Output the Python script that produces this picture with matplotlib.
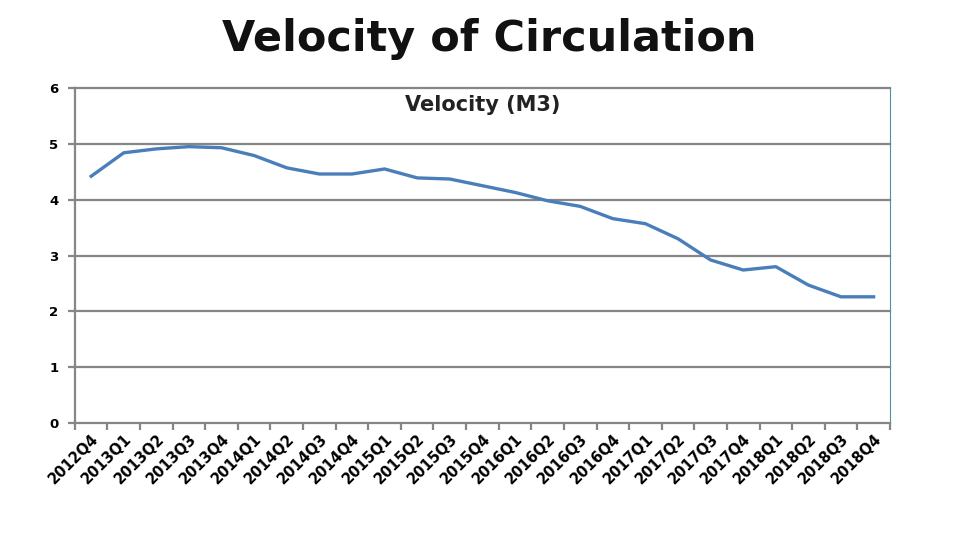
import matplotlib
matplotlib.use("Agg")
import matplotlib.pyplot as plt

quarters = ["2012Q4", "2013Q1", "2013Q2", "2013Q3", "2013Q4", "2014Q1", "2014Q2", "2014Q3",
            "2014Q4", "2015Q1", "2015Q2", "2015Q3", "2015Q4", "2016Q1", "2016Q2", "2016Q3",
            "2016Q4", "2017Q1", "2017Q2", "2017Q3", "2017Q4", "2018Q1", "2018Q2", "2018Q3",
            "2018Q4"]
velocity = [4.42, 4.84, 4.91, 4.95, 4.93, 4.79, 4.57, 4.46, 4.46, 4.55, 4.39, 4.37, 4.25,
            4.13, 3.98, 3.88, 3.66, 3.57, 3.30, 2.92, 2.74, 2.80, 2.47, 2.26, 2.26]
yticks = [0, 1, 2, 3, 4, 5, 6]

fig = plt.figure(figsize=(9.6, 5.4), dpi=100)
ax = fig.add_axes([0.078, 0.2167, 0.849, 0.6203])

x = list(range(len(quarters)))
ax.plot(x, velocity, color="#4A7EBB", linewidth=2.4, solid_joinstyle="round")

ax.set_xlim(-0.5, len(quarters) - 0.5)
ax.set_ylim(0, 6)
ax.set_yticks(yticks)
ax.set_yticklabels([str(v) for v in yticks], fontsize=9.5, fontweight="bold")
for v in yticks[1:]:
    ax.axhline(v, color="#868686", linewidth=1.6, zorder=0, clip_on=False)

ax.set_xticks(x)
ax.set_xticklabels(quarters, rotation=45, ha="right", va="top", rotation_mode="anchor",
                   fontsize=10.5, fontweight="bold")
ax.set_xticks([i - 0.5 for i in range(len(quarters) + 1)], minor=True)
ax.tick_params(axis="x", which="major", length=0, pad=6)
ax.tick_params(axis="x", which="minor", length=5, width=1.6, color="#868686")
ax.tick_params(axis="y", length=5, width=1.6, color="#868686", pad=7)

ax.spines["top"].set_visible(False)
ax.spines["left"].set_color("#868686")
ax.spines["left"].set_linewidth(1.6)
ax.spines["bottom"].set_color("#868686")
ax.spines["bottom"].set_linewidth(1.6)
ax.spines["right"].set_color("#4F8FA0")
ax.spines["right"].set_linewidth(0.8)

ax.text(0.5, 0.95, "Velocity (M3)", transform=ax.transAxes, ha="center", va="center",
        fontsize=15, fontweight="bold", color="#222222")
fig.text(0.51, 0.927, "Velocity of Circulation", ha="center", va="center",
         fontsize=31, fontweight="heavy", color="#111111")

fig.savefig("out.png", dpi=100)
